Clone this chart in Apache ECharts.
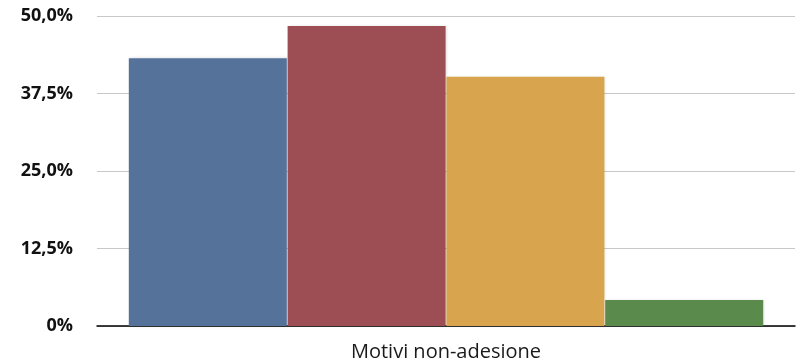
<!DOCTYPE html>
<html>
<head>
<meta charset="utf-8">
<script src="https://cdn.jsdelivr.net/npm/echarts@6/dist/echarts.min.js"></script>
<style>
  html, body { margin: 0; padding: 0; background: #fff; }
  #chart { width: 796px; height: 364px; }
</style>
</head>
<body>
<div id="chart"></div>
<script>
var categories = ['Motivi non-adesione'];
var serie1 = [43.2];
var serie2 = [48.4];
var serie3 = [40.2];
var serie4 = [4.2];
var colori = ['#55729a', '#9d4e55', '#d8a54e', '#5a8a4c'];

var chart = echarts.init(document.getElementById('chart'));

function barra(dati, colore) {
  return {
    type: 'bar',
    data: dati,
    barWidth: 158,
    barGap: '0.5%',
    itemStyle: {
      color: colore,
      shadowColor: 'rgba(0,0,0,0.15)',
      shadowBlur: 3,
      shadowOffsetX: 1
    }
  };
}

var option = {
  animation: false,
  grid: { left: 97, right: 1, top: 16, bottom: 38 },
  xAxis: {
    type: 'category',
    data: categories,
    axisLine: { lineStyle: { color: '#000', width: 1.5 } },
    axisTick: { show: false },
    axisLabel: {
      margin: 16,
      color: '#1a1a1a',
      fontSize: 20,
      fontFamily: '"Open Sans", sans-serif'
    }
  },
  yAxis: {
    type: 'value',
    min: 0,
    max: 50,
    interval: 12.5,
    axisLine: { show: false },
    axisTick: { show: false },
    splitLine: { lineStyle: { color: '#c8c8c8', width: 1 } },
    axisLabel: {
      margin: 24,
      color: '#111',
      fontSize: 18,
      fontWeight: 'bold',
      fontFamily: '"Open Sans", sans-serif',
      padding: [4, 0, 0, 0],
      formatter: function (v) {
        if (v === 0) return '0%';
        return v.toFixed(1).replace('.', ',') + '%';
      }
    }
  },
  series: [
    barra(serie1, colori[0]),
    barra(serie2, colori[1]),
    barra(serie3, colori[2]),
    barra(serie4, colori[3])
  ]
};

chart.setOption(option);
</script>
</body>
</html>
